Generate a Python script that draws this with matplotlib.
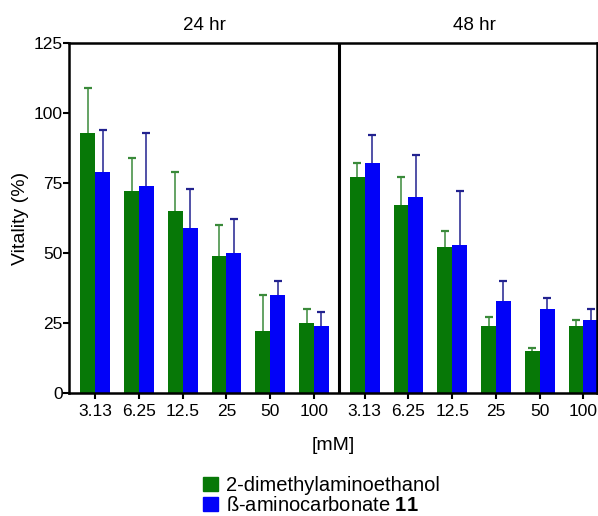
import matplotlib
matplotlib.use("Agg")
import matplotlib.pyplot as plt
import numpy as np
from matplotlib.patches import Patch

plt.rcParams["font.family"] = ["Liberation Sans", "DejaVu Sans"]
plt.rcParams["mathtext.fontset"] = "custom"
plt.rcParams["mathtext.bf"] = "Liberation Sans:bold"

concs = ["3.13", "6.25", "12.5", "25", "50", "100"]
panels = ["24 hr", "48 hr"]

dmae_24 = [93, 72, 65, 49, 22, 25]
dmae_24_err = [16, 12, 14, 11, 13, 5]
amino_24 = [79, 74, 59, 50, 35, 24]
amino_24_err = [15, 19, 14, 12, 5, 5]

dmae_48 = [77, 67, 52, 24, 15, 24]
dmae_48_err = [5, 10, 6, 3, 1, 2]
amino_48 = [82, 70, 53, 33, 30, 26]
amino_48_err = [10, 15, 19, 7, 4, 4]

green = "#077807"
blue = "#0202f8"
green_err = "#3a8a3a"
blue_err = "#22228f"

fig = plt.figure(figsize=(5.98, 5.16), dpi=100)
ax = fig.add_axes([0.1154, 0.2384, 0.8829, 0.6783])

gap = 6.16
w = 0.34
x1 = np.arange(len(concs))
x2 = x1 + gap


def upper_err(xs, vals, errs, color):
    # only the upper half of the error bar, with a cap
    tops = np.array(vals) + np.array(errs)
    ax.vlines(xs, vals, tops, color=color, lw=1.1, zorder=1)
    ax.plot(xs, tops, ls="none", marker="_", ms=6, mew=1.6, color=color, zorder=1)


for xs, g, ge, b, be in [(x1, dmae_24, dmae_24_err, amino_24, amino_24_err),
                         (x2, dmae_48, dmae_48_err, amino_48, amino_48_err)]:
    ax.bar(xs - w / 2, g, w, color=green, zorder=2)
    ax.bar(xs + w / 2, b, w, color=blue, zorder=2)
    upper_err(xs - w / 2, g, ge, green_err)
    upper_err(xs + w / 2, b, be, blue_err)

ax.axvline((x1[-1] + x2[0]) / 2, color="black", lw=2.2)
ax.set_xlim(-0.6, 11.47)
ax.set_ylim(0, 125)
ax.set_xticks(np.concatenate([x1, x2]))
ax.set_xticklabels(concs + concs)
ax.set_yticks([0, 25, 50, 75, 100, 125])
ax.tick_params(axis="both", labelsize=12.5, width=1.5, length=4)
ax.tick_params(axis="y", pad=0.5)
ax.tick_params(axis="x", pad=4)
for s in ax.spines.values():
    s.set_linewidth(1.8)

ax.set_ylabel("Vitality (%)", fontsize=14, labelpad=3)
ax.set_xlabel("[mM]", fontsize=14, labelpad=13)

ax.text(np.mean(x1), 129.6, panels[0], ha="center", va="baseline", fontsize=13.5)
ax.text(np.mean(x2), 129.6, panels[1], ha="center", va="baseline", fontsize=13.5)

handles = [Patch(color=green), Patch(color=blue)]
fig.legend(handles, ["2-dimethylaminoethanol", r"ß-aminocarbonate $\mathbf{11}$"],
           loc="upper left", bbox_to_anchor=(0.322, 0.097), frameon=False,
           fontsize=14.5, handlelength=0.75, handleheight=0.75, handletextpad=0.4,
           labelspacing=0.05, borderpad=0)

fig.savefig("out.png", dpi=100)
